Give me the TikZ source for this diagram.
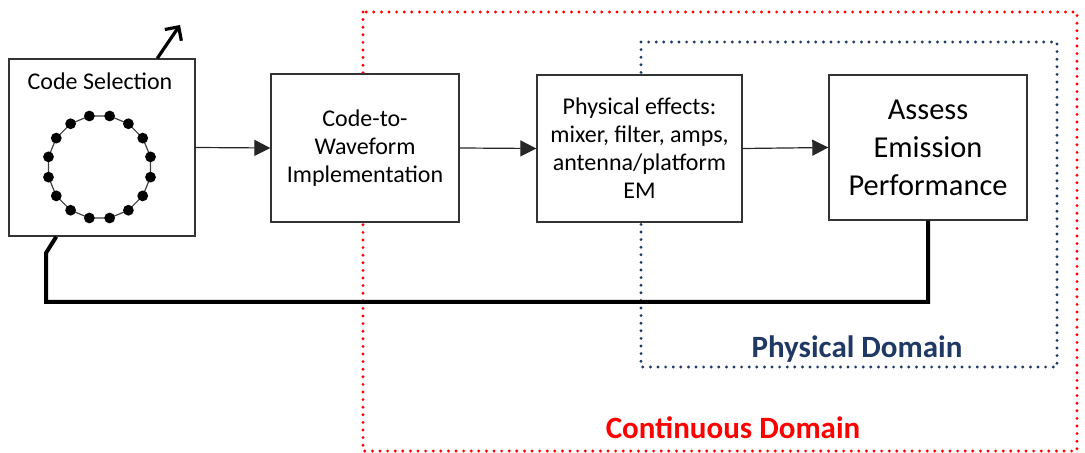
\documentclass[tikz,border=0pt]{standalone}
\usepackage{fontspec}
\setmainfont{Carlito}
\usetikzlibrary{shapes,arrows.meta,positioning,calc}

\begin{document}
\begin{tikzpicture}[x=0.5pt,y=-0.5pt]
        \definecolor{domred}{RGB}{255,0,0}
        \definecolor{domblue}{RGB}{31,56,100}
        \tikzset{
            block/.style={draw=black!80, line width=0.7pt, fill=white, align=center, inner sep=2pt, font=\fontsize{12}{14}\selectfont},
            flow/.style={-{Triangle[length=8pt,width=8pt]}, line width=0.6pt, draw=black!85},
            domainbox/.style={line width=1.6pt, dash pattern=on 0pt off 3.8pt, line cap=round},
            domlabel/.style={font=\fontsize{15.5}{18}\selectfont\bfseries}
        }
        \useasboundingbox (0,0) rectangle (1085,453);

        % Dotted domains (behind the blocks)
        \draw[domainbox, domred] (363,12) rectangle (1077,451);
        \draw[domainbox, domblue] (641,42) rectangle (1057,367);
        \node[domlabel, text=domblue] (physlabel) at (857,349) {Physical Domain};
        \node[domlabel, text=domred] (contlabel) at (733,428) {Continuous Domain};

        % Blocks
        \node[block, minimum width=93pt, minimum height=88.5pt] (select) at (102,147.5) {};
        \node[font=\fontsize{12}{14}\selectfont] (selectlabel) at (100,81) {Code Selection};
        \node[block, minimum width=94pt, minimum height=74pt] (wave) at (365,148) {Code-to-\\Waveform\\Implementation};
        \node[block, minimum width=102.5pt, minimum height=73.5pt] (phys) at (639.5,148.5) {Physical effects:\\mixer, filter, amps,\\antenna/platform\\EM};
        \node[block, minimum width=99pt, minimum height=72.5pt, font=\fontsize{15.2}{19}\selectfont] (assess) at (928,147.5) {Assess\\Emission\\Performance};

        % Ring of code points
        \foreach \i in {0,...,15}
            \coordinate (c\i) at ($(99.5,167)+({11.25+22.5*\i}:52)$);
        \draw[black!75, line width=0.6pt] (c0) \foreach \i in {1,...,15}{-- (c\i)} -- cycle;
        \foreach \i in {0,...,15}
            \fill (c\i) circle (2.7pt);

        % Forward chain
        \draw[flow] (select.east) -- (wave.west);
        \draw[flow] (wave.east) -- (phys.west);
        \draw[flow] (phys.east) -- (assess.west);

        % Output arrow and feedback loop
        \coordinate (out) at (180,25);
        \draw[-{Straight Barb[length=5pt,width=10pt]}, line width=1.6pt] ($(select.north west)+(149,0)$) -- (out);
        \coordinate (loopright) at (928,302);
        \coordinate (loopleft) at (46,302);
        \coordinate (loopknee) at (46,253);
        \draw[line width=2pt] (assess.south) -- (loopright) -- (loopleft) -- (loopknee) -- ($(select.south west)+(48,0)$);
    \end{tikzpicture}
\end{document}
